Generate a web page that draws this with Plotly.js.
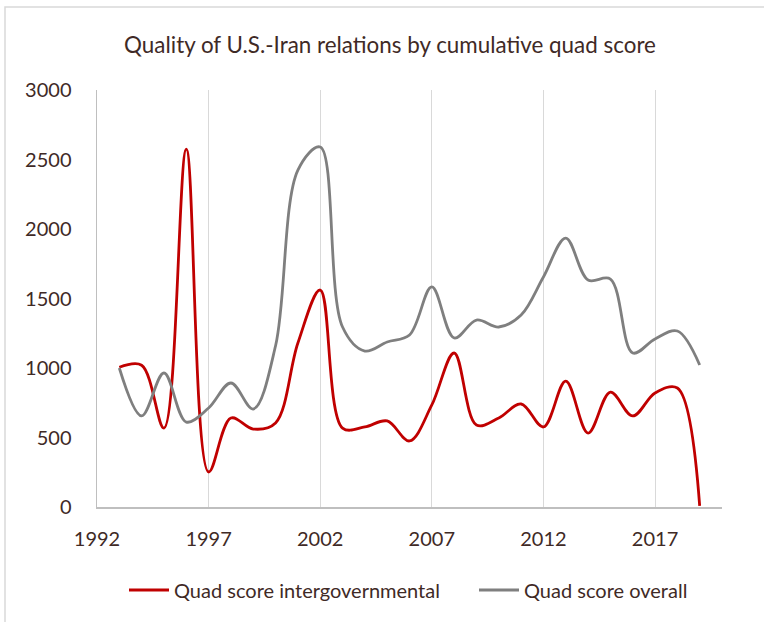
<!DOCTYPE html>
<html>
<head>
<meta charset="utf-8">
<script src="https://cdn.plot.ly/plotly-3.0.1.min.js"></script>
<style>
  html, body { margin: 0; padding: 0; background: #ffffff; }
  #chart { width: 764px; height: 622px; }
</style>
</head>
<body>
<div id="chart"></div>
<script>
const years = [1993,1994,1995,1996,1997,1998,1999,2000,2001,2002,2003,2004,2005,2006,2007,2008,2009,2010,2011,2012,2013,2014,2015,2016,2017,2018,2019];
const intergovernmental = [1005,1020,568,2575,252,640,561,605,1180,1561,568,576,619,475,734,1108,590,640,741,576,906,532,827,655,820,856,8];
const overall = [1000,655,964,611,712,892,705,1160,2424,2590,1295,1122,1187,1237,1583,1216,1345,1295,1381,1655,1935,1633,1640,1108,1209,1266,1022];
const seriesNames = ["Quad score intergovernmental", "Quad score overall"];
const chartTitle = "Quality of U.S.-Iran relations by cumulative quad score";

const fontFam = "Lato, 'Open Sans', sans-serif";
const textColor = "#3f2a26";

const traces = [
  { x: years, y: intergovernmental, name: seriesNames[0], type: "scatter", mode: "lines", legend: "legend",
    line: { color: "#C00000", width: 2.8, shape: "spline", smoothing: 1 } },
  { x: years, y: overall, name: seriesNames[1], type: "scatter", mode: "lines", legend: "legend2",
    line: { color: "#7F7F7F", width: 2.8, shape: "spline", smoothing: 1 } }
];

const legendBase = { orientation: "h", xref: "container", yref: "container", xanchor: "left", yanchor: "middle",
  y: 1 - 590/622, font: { family: fontFam, size: 20, color: textColor }, itemwidth: 40,
  bgcolor: "rgba(0,0,0,0)", borderwidth: 0 };

const layout = {
  width: 764, height: 622,
  margin: { l: 97, r: 42, t: 90, b: 115, autoexpand: false },
  paper_bgcolor: "#ffffff", plot_bgcolor: "#ffffff",
  font: { family: fontFam, color: textColor, size: 20 },
  title: { text: chartTitle, x: 390/764, xanchor: "center", xref: "container", y: 1 - 45/622, yanchor: "middle",
           font: { family: fontFam, size: 22.4, color: textColor } },
  xaxis: { range: [1992, 2020], tick0: 1992, dtick: 5, tickmode: "linear",
           showgrid: true, gridcolor: "#d9d9d9", gridwidth: 1,
           showline: true, linecolor: "#bfbfbf", linewidth: 1.5,
           zeroline: false, ticks: "", ticklen: 0, ticklabelstandoff: 13,
           tickfont: { family: fontFam, size: 20, color: textColor } },
  yaxis: { range: [0, 3000], dtick: 500, tickmode: "linear",
           showgrid: false, showline: true, linecolor: "#bfbfbf", linewidth: 1.5,
           zeroline: false, ticks: "", ticklen: 0, ticklabelstandoff: 20,
           tickfont: { family: fontFam, size: 20, color: textColor } },
  showlegend: true,
  legend: Object.assign({}, legendBase, { x: (134 - 10)/764 }),
  legend2: Object.assign({}, legendBase, { x: (484 - 10)/764 }),
  shapes: [
    { type: "rect", xref: "paper", yref: "paper",
      x0: (5-97)/625, x1: (800-97)/625, y0: (507-660)/417, y1: (507-7)/417,
      line: { color: "#d9d9d9", width: 1.5 }, fillcolor: "rgba(0,0,0,0)", layer: "below" }
  ]
};

Plotly.newPlot("chart", traces, layout, { displayModeBar: false, staticPlot: true });
</script>
</body>
</html>
